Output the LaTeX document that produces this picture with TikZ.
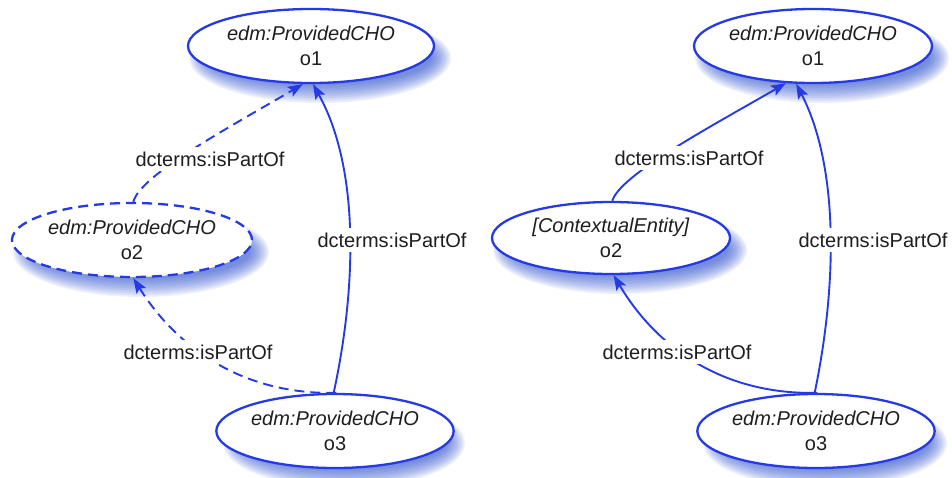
\documentclass[tikz,border=0pt]{standalone}
\usepackage{fontspec}
\setmainfont{Liberation Sans}
\usetikzlibrary{shapes.geometric,arrows.meta}
\definecolor{edgeblue}{RGB}{38,58,228}
\definecolor{shadowblue}{RGB}{50,85,205}
\definecolor{txt}{RGB}{30,30,30}
\newcommand\myshadow[4]{%
  \foreach \i in {0,...,11}{%
    \pgfmathsetmacro\ra{#3+8-1.7*\i}%
    \pgfmathsetmacro\rb{#4+8-1.7*\i}%
    \fill[shadowblue,opacity=0.085] (#1+9,#2+12) ellipse (\ra pt and \rb pt);
  }}
\begin{document}
\begin{tikzpicture}[x=1pt,y=-1pt,
  ent/.style={ellipse, draw=edgeblue, line width=2.3pt, fill=white, inner sep=0pt,
    align=center, text=txt, font=\fontsize{20}{25}\selectfont},
  rel/.style={draw=edgeblue, line width=1.9pt, -{Stealth[length=15pt,width=11pt,inset=3pt]}},
  dashrel/.style={rel, dash pattern=on 10pt off 6pt},
  lbl/.style={fill=white, inner sep=5pt, text=txt, font=\fontsize{20}{24}\selectfont}
]
\useasboundingbox (0,0) rectangle (952,477);
% shadows
\myshadow{311}{46}{123}{37}
\myshadow{132}{240}{120}{37}
\myshadow{335}{431}{113}{37}
\myshadow{813}{46}{119}{37}
\myshadow{611}{238}{119}{36}
\myshadow{816}{431}{114}{37}
% left diagram
\node[ent, minimum width=246pt, minimum height=74pt] (lo1) at (311,46) {\textit{edm:ProvidedCHO}\\o1};
\node[ent, dash pattern=on 10pt off 6pt, minimum width=240pt, minimum height=74pt] (lo2) at (132,240) {\textit{edm:ProvidedCHO}\\o2};
\node[ent, minimum width=226pt, minimum height=74pt] (lo3) at (335,431) {\textit{edm:ProvidedCHO}\\o3};
% right diagram
\node[ent, minimum width=238pt, minimum height=74pt] (ro1) at (813,46) {\textit{edm:ProvidedCHO}\\o1};
\node[ent, minimum width=238pt, minimum height=72pt] (ro2) at (611,238) {\textit{[ContextualEntity]}\\o2};
\node[ent, minimum width=228pt, minimum height=74pt] (ro3) at (816,431) {\textit{edm:ProvidedCHO}\\o3};
% left edges
\draw[dashrel] (lo2.88) .. controls (140,175) and (230,127) .. (lo1.-102);
\draw[dashrel] (lo3.88) .. controls (240,395) and (175,345) .. (lo2.-88);
\draw[rel] (lo3.92) .. controls (358,280) and (358,165) .. (lo1.-87);
% right edges
\draw[rel] (ro2.88) .. controls (620,175) and (710,127) .. (ro1.-126);
\draw[rel] (ro3.88) .. controls (720,395) and (655,345) .. (ro2.-86);
\draw[rel] (ro3.92) .. controls (838,280) and (838,165) .. (ro1.-114);
% labels
\node[lbl] (l1) at (210,159) {dcterms:isPartOf};
\node[lbl] (l2) at (392,240) {dcterms:isPartOf};
\node[lbl] (l3) at (198,352) {dcterms:isPartOf};
\node[lbl] (r1) at (689,158) {dcterms:isPartOf};
\node[lbl] (r2) at (873,240) {dcterms:isPartOf};
\node[lbl] (r3) at (677,352) {dcterms:isPartOf};
\end{tikzpicture}
\end{document}
